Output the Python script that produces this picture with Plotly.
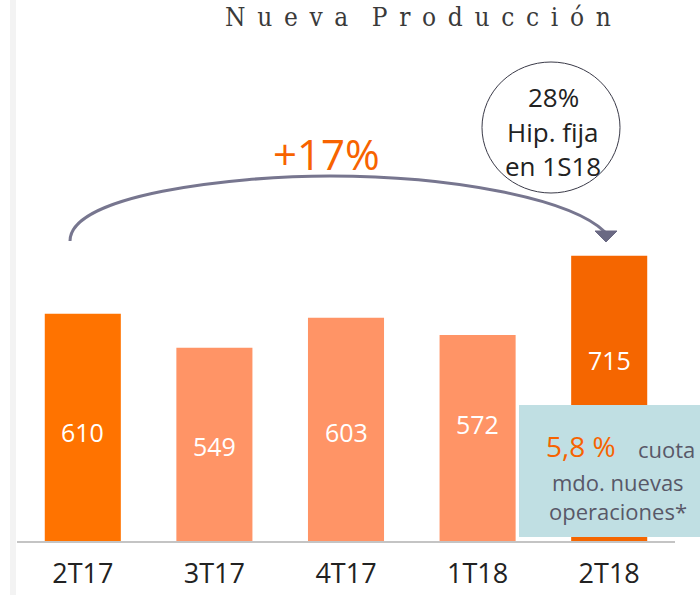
import plotly.graph_objects as go

# ---- data ----
categories = ["2T17", "3T17", "4T17", "1T18", "2T18"]
values = [610, 549, 603, 572, 715]
bar_colors = ["#FF7300", "#FF9466", "#FF9466", "#FF9466", "#F56600"]
title_text = "Nueva Producción"
growth_label = "+17%"
circle_lines = ["28%", "Hip. fija", "en 1S18"]
share_value = "5,8 %"
share_lines = ["cuota", "mdo. nuevas", "operaciones*"]

# ---- geometry ----
W, H = 700, 595
L, R, T, B = 17, 25, 40, 54
PW, PH = W - L - R, H - T - B
Y_MIN = 200
PX_PER_UNIT = 0.554
Y_MAX = Y_MIN + PH / PX_PER_UNIT
LABEL_PX_Y = [432, 446, 432, 424, 360]   # vertical placement of value labels (pixels)

def px(x):
    return (x - L) / PW

def py(y):
    return (H - B - y) / PH

MAIN_FONT = "Open Sans"

fig = go.Figure(go.Bar(
    x=categories, y=values, marker=dict(color=bar_colors, line=dict(width=0)),
    width=0.578, hoverinfo="skip",
))

annotations = []

def note(x, y, text, size, color, family=MAIN_FONT, xanchor="center"):
    annotations.append(dict(x=px(x), y=py(y), xref="paper", yref="paper", text=text,
                            showarrow=False, xanchor=xanchor, yanchor="middle",
                            font=dict(family=family, size=size, color=color)))

# value labels
for c, v, ly in zip(categories, values, LABEL_PX_Y):
    annotations.append(dict(x=c, y=py(ly), xref="x", yref="paper", text=str(v),
                            showarrow=False, xanchor="center", yanchor="middle",
                            font=dict(family=MAIN_FONT, size=25, color="white")))

# title with letter spacing
spaced = "\u2003".join("\u2002".join(list(w)) for w in title_text.split(" "))
note(418, 17, spaced, 26, "#3A3A3A", family="DejaVu Serif Condensed")

# growth label
note(326, 153, growth_label, 42, "#F76300")

# circle text
for t_, yy in zip(circle_lines, [97, 132, 166]):
    note(553, yy, t_, 26, "#222222")

# share box text
note(618, 446, share_value, 28, "#F76300", xanchor="right")
note(636, 449, share_lines[0], 22, "#585868", xanchor="left")
for t_, yy in zip(share_lines[1:], [482, 511]):
    note(618, yy, t_, 22, "#585868")

def P(x, y):
    return f"{px(x):.5f},{py(y):.5f}"

arc = f"M {P(70,241)} C {P(70,195)} {P(230,176)} {P(330,176)} C {P(450,176)} {P(570,198)} {P(605,232)}"
head = f"M {P(595,231)} L {P(617,231)} L {P(606,242)} Z"

shapes = [
    dict(type="rect", xref="paper", yref="paper", x0=px(10), x1=px(16), y0=py(595), y1=py(0),
         fillcolor="#F3F3F3", line=dict(width=0), layer="below"),
    dict(type="path", xref="paper", yref="paper", path=arc,
         line=dict(color="#77768F", width=3)),
    dict(type="path", xref="paper", yref="paper", path=head,
         fillcolor="#6A6983", line=dict(color="#6A6983", width=1)),
    dict(type="circle", xref="paper", yref="paper", x0=px(482), x1=px(620), y0=py(193), y1=py(62),
         fillcolor="white", line=dict(color="#3A3A48", width=1)),
    dict(type="rect", xref="paper", yref="paper", x0=px(519), x1=px(700), y0=py(537), y1=py(405),
         fillcolor="#C0DFE3", line=dict(width=0), layer="above"),
]

fig.update_layout(
    width=W, height=H, margin=dict(l=L, r=R, t=T, b=B, autoexpand=False),
    paper_bgcolor="white", plot_bgcolor="white", showlegend=False,
    annotations=annotations, shapes=shapes,
    xaxis=dict(showline=True, linecolor="#C4C4C4", linewidth=2, showgrid=False, zeroline=False,
               ticks="outside", ticklen=8, tickcolor="rgba(0,0,0,0)", automargin=False,
               tickfont=dict(family=MAIN_FONT, size=27, color="#222222"),
               range=[-0.5, 4.5]),
    yaxis=dict(range=[Y_MIN, Y_MAX], visible=False, showgrid=False, zeroline=False,
               automargin=False),
    font=dict(family=MAIN_FONT),
)

fig.write_html("out.html", config={"displayModeBar": False},
               post_script="document.body.style.margin='0';document.body.style.overflow='hidden';")
